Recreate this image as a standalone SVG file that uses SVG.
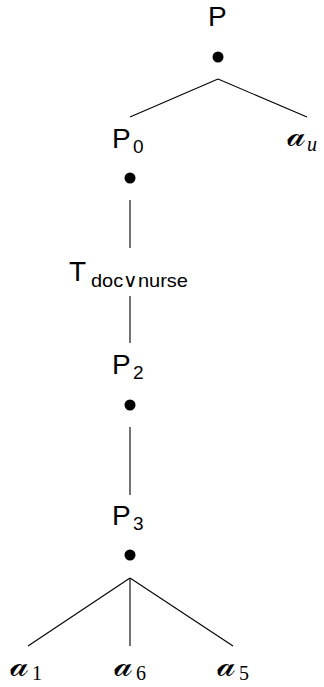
<svg xmlns="http://www.w3.org/2000/svg" width="324" height="687" viewBox="0 0 324 687">
<style>
.lbl{font-family:"Liberation Sans",Arial,sans-serif;font-size:28px;fill:#000}
.sub{font-family:"Liberation Sans",Arial,sans-serif;font-size:19px;fill:#000}
.scr{font-family:"DejaVu Serif","Liberation Serif",serif;font-size:34px;fill:#000}
.ssub{font-family:"Liberation Serif",serif;font-size:20px;fill:#000}
.isub{font-family:"Liberation Serif",serif;font-size:20px;font-style:italic;fill:#000}
.edge{stroke:#000;stroke-width:1.1;fill:none}
</style>
<rect width="324" height="687" fill="#fff"/>
<g id="connectors">
<line class="edge" x1="218" y1="79" x2="130" y2="117"/>
<line class="edge" x1="218" y1="79" x2="307" y2="117"/>
<line class="edge" x1="130" y1="200" x2="130" y2="248"/>
<line class="edge" x1="130" y1="296" x2="130" y2="343"/>
<line class="edge" x1="130" y1="427" x2="130" y2="495"/>
<line class="edge" x1="130" y1="578" x2="28" y2="646"/>
<line class="edge" x1="130" y1="578" x2="130" y2="646"/>
<line class="edge" x1="130" y1="578" x2="233" y2="646"/>
</g>
<g id="P"><text class="lbl" x="208" y="26">P</text><circle cx="218" cy="57" r="5.5"/></g>
<g id="P0"><text class="lbl" x="112" y="148">P</text><text class="sub" x="133" y="153">0</text><circle cx="130" cy="178" r="5.5"/></g>
<g id="au"><text class="scr" x="287" y="146">𝒶</text><text class="isub" x="307" y="151">u</text></g>
<g id="T"><text class="lbl" x="69" y="281">T</text><text class="sub" x="91" y="287" textLength="97" lengthAdjust="spacingAndGlyphs">doc∨nurse</text></g>
<g id="P2"><text class="lbl" x="112" y="374">P</text><text class="sub" x="133" y="379">2</text><circle cx="130" cy="405" r="5.5"/></g>
<g id="P3"><text class="lbl" x="112" y="525">P</text><text class="sub" x="133" y="530">3</text><circle cx="130" cy="555" r="5.5"/></g>
<g id="a1"><text class="scr" x="10" y="676">𝒶</text><text class="ssub" x="32" y="680">1</text></g>
<g id="a6"><text class="scr" x="114" y="676">𝒶</text><text class="ssub" x="136" y="680">6</text></g>
<g id="a5"><text class="scr" x="217" y="676">𝒶</text><text class="ssub" x="239" y="680">5</text></g>
</svg>
